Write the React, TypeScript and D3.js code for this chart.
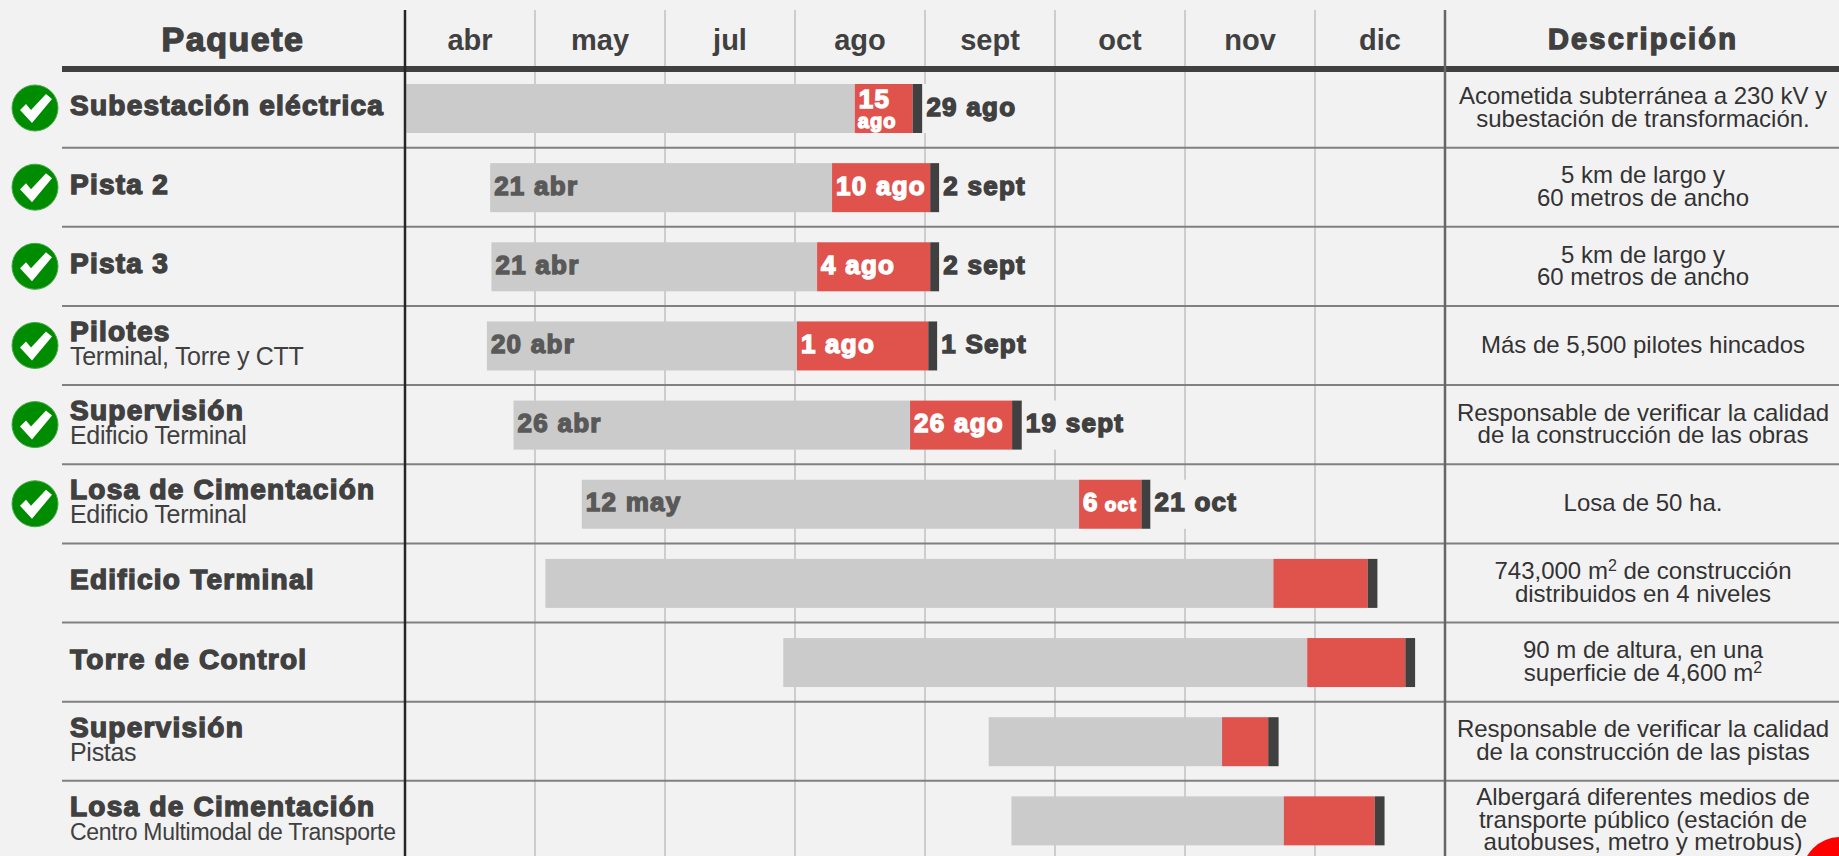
import * as d3 from 'd3';

const months = ['abr', 'may', 'jul', 'ago', 'sept', 'oct', 'nov', 'dic'];
const names = [
  'Subestación eléctrica', 'Pista 2', 'Pista 3', 'Pilotes', 'Supervisión', 'Losa de Cimentación',
  'Edificio Terminal', 'Torre de Control', 'Supervisión', 'Losa de Cimentación',
];
const subtitles = ['', '', '', 'Terminal, Torre y CTT', 'Edificio Terminal', 'Edificio Terminal', '', '', 'Pistas', 'Centro Multimodal de Transporte'];
const done = [true, true, true, true, true, true, false, false, false, false];

// bar edges, measured in months from the start of the axis
const startValues = [0.01, 0.655, 0.665, 0.63, 0.835, 1.36, 1.08, 2.91, 4.49, 4.665];
const redValues = [3.46, 3.285, 3.17, 3.015, 3.885, 5.185, 6.68, 6.94, 6.285, 6.76];
const darkValues = [3.905, 4.04, 4.04, 4.025, 4.67, 5.665, 7.405, 7.695, 6.64, 7.46];
const endValues = [3.98, 4.11, 4.11, 4.095, 4.745, 5.735, 7.48, 7.77, 6.72, 7.535];

const startLabels = ['', '21 abr', '21 abr', '20 abr', '26 abr', '12 may', '', '', '', ''];
const redLabels = ['15', '10 ago', '4 ago', '1 ago', '26 ago', '6', '', '', '', ''];
const redSmall = ['ago', '', '', '', '', 'oct', '', '', '', ''];
const endLabels = ['29 ago', '2 sept', '2 sept', '1 Sept', '19 sept', '21 oct', '', '', '', ''];

const descriptions = [
  ['Acometida subterránea a 230 kV y', 'subestación de transformación.'],
  ['5 km de largo y', '60 metros de ancho'],
  ['5 km de largo y', '60 metros de ancho'],
  ['Más de 5,500 pilotes hincados'],
  ['Responsable de verificar la calidad', 'de la construcción de las obras'],
  ['Losa de 50 ha.'],
  ['743,000 m² de construcción', 'distribuidos en 4 niveles'],
  ['90 m de altura, en una', 'superficie de 4,600 m²'],
  ['Responsable de verificar la calidad', 'de la construcción de las pistas'],
  ['Albergará diferentes medios de', 'transporte público (estación de', 'autobuses, metro y metrobus)'],
];

const WIDTH = 1839;
const HEIGHT = 856;
const BG = '#f2f2f2';
const DARK = '#404040';
const FONT = '"Liberation Sans", Arial, sans-serif';

const x = d3.scaleLinear().domain([0, months.length]).range([405, 1445]);
const rowTop = d3.scaleLinear().domain([0, names.length]).range([68.5, 860]);
const barH = 49;

// Arial Black look: bold face with a thin stroke on top
function Heavy({ size, fill = DARK, sw = 1.4, ls = 1.25, ...rest }: any) {
  return (
    <text fontFamily={FONT} fontWeight={700} fontSize={size} fill={fill} stroke={fill} strokeWidth={sw}
      letterSpacing={ls} {...rest} />
  );
}

function Sup({ text }: { text: string }) {
  const parts = text.split('²');
  if (parts.length === 1) return <>{text}</>;
  return (
    <>
      {parts[0]}
      <tspan dy={-8} fontSize={16}>2</tspan>
      <tspan dy={8}>{parts[1]}</tspan>
    </>
  );
}

export default function App() {
  return (
    <svg width={WIDTH} height={HEIGHT} style={{ position: 'absolute', left: 0, top: 0, display: 'block', background: BG }}>
      {d3.range(1, months.length).map((m) => (
        <line key={m} x1={x(m)} x2={x(m)} y1={10} y2={HEIGHT} stroke="#c0c0c0" strokeWidth={1.5} />
      ))}

      {months.map((m, i) => (
        <text key={m} x={x(i + 0.5)} y={50} textAnchor="middle" fontFamily={FONT} fontSize={29} fontWeight={700} fill={DARK}>{m}</text>
      ))}
      <Heavy size={34} x={233} y={51} textAnchor="middle" ls={1.5}>Paquete</Heavy>
      <Heavy size={29} x={1643} y={49} textAnchor="middle" ls={2.2}>Descripción</Heavy>

      {names.map((_, i) => (
        <line key={i} x1={62} x2={WIDTH} y1={rowTop(i + 1)} y2={rowTop(i + 1)} stroke="#808080" strokeWidth={2} />
      ))}

      {names.map((name, i) => {
        const top = rowTop(i);
        const barTop = top + 15.5;
        const mid = barTop + barH / 2;
        return (
          <g key={i}>
            <rect x={x(startValues[i])} y={barTop} width={x(redValues[i]) - x(startValues[i])} height={barH} fill="#cbcbcb" />
            <rect x={x(redValues[i])} y={barTop} width={x(darkValues[i]) - x(redValues[i])} height={barH} fill="#e0524c" />
            <rect x={x(darkValues[i])} y={barTop} width={x(endValues[i]) - x(darkValues[i])} height={barH} fill={DARK} />

            {done[i] && (
              <g transform={`translate(35,${top + 39.5})`}>
                <circle r={23} fill="#008c00" stroke="#4aa84a" strokeWidth={1} />
                <path d="M-15,2 L-9,-4 L-4,2 L11,-14 L17,-9 L-3,15 Z" fill="#fff" />
              </g>
            )}

            {subtitles[i] ? (
              <>
                <Heavy size={28} x={70} y={top + 35}>{name}</Heavy>
                <text x={70} y={top + 59} fontFamily={FONT} fontSize={i === 9 ? 23 : 25} fill={DARK} letterSpacing={-0.3}>{subtitles[i]}</text>
              </>
            ) : (
              <Heavy size={28} x={70} y={top + 46}>{name}</Heavy>
            )}

            {startLabels[i] && (
              <Heavy size={26} x={x(startValues[i]) + 4} y={mid + 7} fill="#595959">{startLabels[i]}</Heavy>
            )}
            {redLabels[i] && (
              redSmall[i] === 'ago' ? (
                <>
                  <Heavy size={26} x={x(redValues[i]) + 4} y={mid - 1} fill="#fff">{redLabels[i]}</Heavy>
                  <Heavy size={20} x={x(redValues[i]) + 3} y={mid + 19} fill="#fff" ls={1}>{redSmall[i]}</Heavy>
                </>
              ) : (
                <Heavy size={26} x={x(redValues[i]) + 4} y={mid + 7} fill="#fff">
                  {redLabels[i]}
                  {redSmall[i] && <tspan fontSize={19} dx={6}>{redSmall[i]}</tspan>}
                </Heavy>
              )
            )}
            {endLabels[i] && (
              <>
                {/* label box hides the grid line behind the end date */}
                <rect x={x(endValues[i])} y={barTop} width={100} height={barH} fill={BG} />
                <Heavy size={26} x={x(endValues[i]) + 4} y={mid + 7}>{endLabels[i]}</Heavy>
              </>
            )}

            <text textAnchor="middle" fontFamily={FONT} fontSize={24} fill="#333">
              {descriptions[i].map((line, j) => (
                <tspan key={j} x={1643} y={mid + 7 + (j - (descriptions[i].length - 1) / 2) * 22.5}>
                  <Sup text={line} />
                </tspan>
              ))}
            </text>
          </g>
        );
      })}

      <line x1={62} x2={WIDTH} y1={69} y2={69} stroke={DARK} strokeWidth={6} />
      <line x1={405} x2={405} y1={10} y2={HEIGHT} stroke="#262626" strokeWidth={2.5} />
      <line x1={1445} x2={1445} y1={10} y2={HEIGHT} stroke="#666" strokeWidth={2.5} />
      <circle cx={1840} cy={875} r={38} fill="#ff0000" />
    </svg>
  );
}
